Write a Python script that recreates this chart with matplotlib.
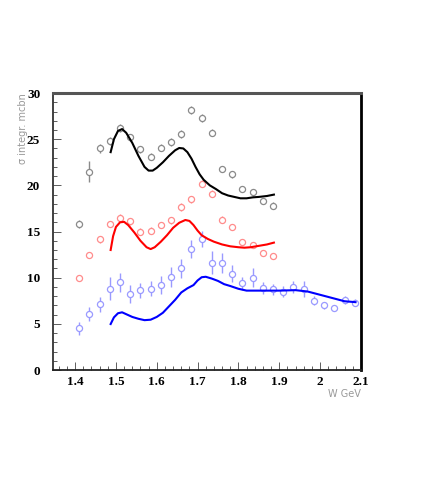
import numpy as np
import matplotlib
matplotlib.use("Agg")
import matplotlib.pyplot as plt
from matplotlib.ticker import MultipleLocator

# measured points (W, sigma, error)
w_pts = [1.41, 1.435, 1.46, 1.485, 1.51, 1.535, 1.56, 1.585, 1.61, 1.635,
         1.66, 1.685, 1.71, 1.735, 1.76, 1.785, 1.81, 1.835, 1.86, 1.885,
         1.91, 1.935, 1.96, 1.985, 2.01, 2.035, 2.06, 2.085]

sig_black = [15.8, 21.5, 24.0, 24.8, 26.2, 25.2, 23.9, 23.1, 24.1, 24.7,
             25.6, 28.2, 27.3, 25.7, 21.8, 21.2, 19.6, 19.25, 18.3, 17.8]
err_black = [0.45, 1.15, 0.45, 0.4, 0.45, 0.4, 0.4, 0.4, 0.4, 0.4,
             0.45, 0.45, 0.45, 0.4, 0.35, 0.35, 0.35, 0.35, 0.35, 0.35]

sig_red = [10.0, 12.45, 14.15, 15.8, 16.5, 16.1, 15.0, 15.1, 15.7, 16.2,
           17.65, 18.5, 20.2, 19.1, 16.3, 15.5, 13.9, 13.5, 12.7, 12.3]
err_red = [0.3, 0.35, 0.35, 0.35, 0.4, 0.35, 0.35, 0.35, 0.35, 0.35,
           0.4, 0.4, 0.4, 0.4, 0.35, 0.35, 0.3, 0.3, 0.3, 0.3]

sig_blue = [4.5, 6.05, 7.1, 8.8, 9.5, 8.25, 8.65, 8.8, 9.2, 10.1,
            11.0, 13.1, 14.2, 11.6, 11.6, 10.45, 9.4, 10.0, 8.9, 8.75,
            8.5, 8.95, 8.75, 7.5, 7.0, 6.7, 7.55, 7.3]
err_blue = [0.7, 0.75, 0.8, 1.25, 1.0, 1.0, 0.8, 0.8, 0.95, 1.1,
            1.0, 0.95, 0.9, 1.25, 1.1, 0.95, 0.7, 1.0, 0.65, 0.6,
            0.6, 0.65, 0.85, 0.5, 0.4, 0.3, 0.45, 0.4]

# model curves
w_black = [1.487, 1.495, 1.505, 1.515, 1.525, 1.54, 1.555, 1.57, 1.58, 1.59,
           1.60, 1.615, 1.63, 1.645, 1.655, 1.665, 1.675, 1.685, 1.695, 1.705,
           1.715, 1.73, 1.745, 1.76, 1.775, 1.79, 1.805, 1.82, 1.835, 1.85,
           1.87, 1.887]
y_black = [23.6, 25.0, 25.9, 26.1, 25.7, 24.6, 23.2, 22.0, 21.6, 21.6,
           21.9, 22.5, 23.2, 23.8, 24.05, 24.0, 23.6, 22.9, 22.0, 21.2,
           20.6, 20.0, 19.6, 19.15, 18.9, 18.75, 18.6, 18.6, 18.7, 18.75,
           18.85, 19.0]

w_red = [1.487, 1.493, 1.50, 1.51, 1.52, 1.53, 1.545, 1.56, 1.575, 1.585,
         1.595, 1.61, 1.625, 1.64, 1.655, 1.67, 1.68, 1.69, 1.70, 1.71,
         1.725, 1.74, 1.76, 1.78, 1.80, 1.815, 1.83, 1.85, 1.87, 1.887]
y_red = [13.0, 14.5, 15.5, 16.0, 16.05, 15.7, 14.9, 14.0, 13.3, 13.1,
         13.3, 13.9, 14.6, 15.4, 15.95, 16.25, 16.15, 15.7, 15.1, 14.6,
         14.2, 13.9, 13.6, 13.4, 13.3, 13.25, 13.3, 13.45, 13.6, 13.8]

w_blue = [1.487, 1.495, 1.505, 1.515, 1.525, 1.54, 1.555, 1.57, 1.585, 1.60,
          1.615, 1.63, 1.645, 1.66, 1.675, 1.69, 1.70, 1.71, 1.72, 1.735,
          1.75, 1.765, 1.78, 1.80, 1.82, 1.85, 1.90, 1.94, 1.97, 2.00,
          2.03, 2.06, 2.087]
y_blue = [4.98, 5.7, 6.15, 6.25, 6.05, 5.75, 5.55, 5.4, 5.45, 5.75,
          6.2, 6.9, 7.6, 8.4, 8.85, 9.2, 9.7, 10.05, 10.1, 9.9,
          9.65, 9.3, 9.1, 8.8, 8.6, 8.6, 8.6, 8.65, 8.5, 8.15,
          7.8, 7.45, 7.35]

fig = plt.figure(figsize=(4.25, 4.95), dpi=100)
ax = fig.add_axes([0.124, 0.2525, 0.725, 0.5595])

sets = [(sig_black, err_black, '#8a8a8a'),
        (sig_red, err_red, '#ff8c8c'),
        (sig_blue, err_blue, '#9a9aff')]
for sig, err, col in sets:
    n = len(sig)
    ax.errorbar(w_pts[:n], sig, yerr=err, fmt='o', ms=4.4, mfc='white',
                mec=col, mew=0.9, ecolor=col, elinewidth=1.0, capsize=0,
                zorder=2)

ax.plot(w_black, y_black, color='black', lw=1.5, zorder=3)
ax.plot(w_red, y_red, color='#ff0000', lw=1.5, zorder=3)
ax.plot(w_blue, y_blue, color='#0000ff', lw=1.5, zorder=3)

ax.set_xlim(1.345, 2.1)
ax.set_ylim(0, 30)
ax.xaxis.set_major_locator(MultipleLocator(0.1))
ax.xaxis.set_minor_locator(MultipleLocator(0.02))
ax.yaxis.set_major_locator(MultipleLocator(5))
ax.yaxis.set_minor_locator(MultipleLocator(1))
ax.tick_params(which='both', direction='in', top=False, right=False,
               width=0.6, color='#444444')
ax.tick_params(which='major', length=6)
ax.tick_params(which='minor', length=3)
ax.set_xticks([1.4, 1.5, 1.6, 1.7, 1.8, 1.9, 2.0, 2.1])
ax.set_xticklabels(['1.4', '1.5', '1.6', '1.7', '1.8', '1.9', '2', '2.1'])
for lab in ax.get_xticklabels() + ax.get_yticklabels():
    lab.set_fontfamily('Liberation Serif')
    lab.set_fontweight('bold')
    lab.set_fontsize(9.5)
ax.tick_params(axis='x', pad=4)
ax.tick_params(axis='y', pad=9)

ax.spines['top'].set_color('#555555')
ax.spines['top'].set_linewidth(2.2)
ax.spines['right'].set_color('black')
ax.spines['right'].set_linewidth(2.0)
ax.spines['left'].set_color('#333333')
ax.spines['left'].set_linewidth(1.3)
ax.spines['bottom'].set_color('#222222')
ax.spines['bottom'].set_linewidth(1.3)

fig.text(0.053, 0.812, '\u03c3 integr. mcbn', rotation=90, ha='center',
         va='top', fontsize=7, color='#999999', family='DejaVu Sans')
fig.text(0.849, 0.204, 'W GeV', ha='right', va='center', fontsize=7,
         color='#999999', family='DejaVu Sans')

fig.savefig('out.png', dpi=100)
